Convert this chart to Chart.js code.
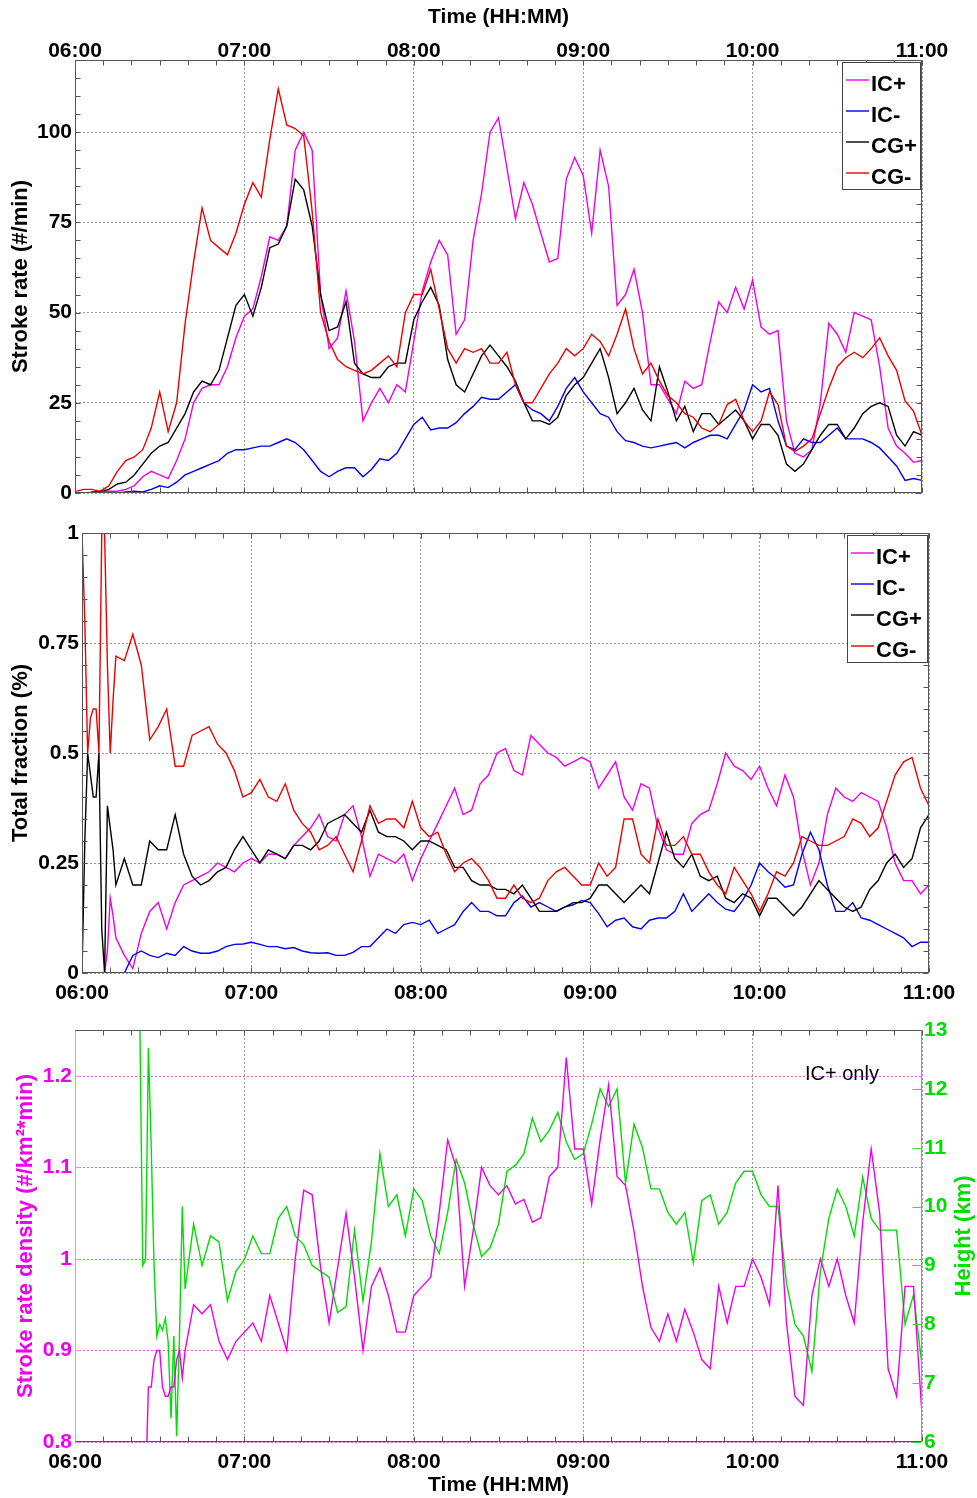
<!DOCTYPE html>
<html lang="en">
<head>
    <meta charset="UTF-8">
    <title>Stroke rates</title>
    <script src="https://cdn.jsdelivr.net/npm/chart.js"></script>
    <style>
        body { margin: 0; background: #fff; }
        #wrap { position: relative; width: 977px; height: 1498px; }
        canvas { position: absolute; left: 0; }
    </style>
</head>
<body>
<div id="wrap">
    <canvas id="rateChart" width="977" height="510" style="top:0"></canvas>
    <canvas id="fracChart" width="977" height="500" style="top:510px"></canvas>
    <canvas id="densChart" width="977" height="488" style="top:1010px"></canvas>
</div>
<script>
// minutes after 06:00 (panels 1 and 2)
const times12 = [0,1,2,3,4,5,6,7,8,9,10,11,12,15,18,21,24,27,30,33,36,39,42,45,48,51,54,57,60,63,66,69,72,75,78,81,84,87,90,93,96,99,102,105,108,111,114,117,120,123,126,129,132,135,138,141,144,147,150,153,156,159,162,165,168,171,174,177,180,183,186,189,192,195,198,201,204,207,210,213,216,219,222,225,228,231,234,237,240,243,246,249,252,255,258,261,264,267,270,273,276,279,282,285,288,291,294,297,300];

// stroke rate (#/min)
const rateICp = [0,0,0,0,0,0,0,0,0,0.2,0.3,0.4,0.5,
    0.5,1,2,4.5,6,5,4,9,15,25, 29,30,30,35,43,49,51,60,71,70, 74,95,100,95,55,40,43,56,42,20,
    25,29,25,30,28,42,56,64,70,66, 44,48,70,83,100,104,90,76,86,80, 72,64,65,87,93,88,72,95,85,52,
    55,62,50,30,30,26,22,31,29,30, 42,53,50,57,51,59,46,44,45,20, 11,10,12,25,47,44,39,50,49,48,
    35,18,13,11,8.5,9];
const rateICm = [0,0,0,0,0,0,0,0,0,0,0,0,0,
    0,0.3,0.5,0.3,1,2,1.5,3,5,6, 7,8,9,11,12,12,12.5,13,13,14, 15,14,12,9,6,4.5,6,7,7,4.5,
    6.5,9.5,9,11,15,19,21,17.5,18,18, 19.5,22,24,26.5,26,26,28,30,25,23, 22,20,24,29,32,28,25,22,21,17,
    14.5,14,13,12.5,13,13.5,14,12.5,14,15, 16,16,15,19,23,30,28,29,20,13, 12,15,14,14,16,18,15,15,15,14,
    12.5,10,7.5,3.5,4,3.5];
const rateCGp = [0,0,0,0,0,0,0.3,0.3,0.4,0.5,0.6,0.8,1,
    2.5,3,5,8,11,13,14,18,22,28, 31,30,34,43,52,55,49,57,68,69, 74,87,84,74,55,45,46,53,36,33,
    32,32,35,36,36,48,53,57,52,37, 30,28,33,38,41,38,35,31,25,20, 20,19,21,27,30,32,36,40,32,22,
    25,29,23,20,35,28,20,24,17,22, 22,19,21,23,20,15,19,19,16,8, 6,8,12,16,19,19,15,18,22,24,
    25,24,16,13,17,16];
const rateCGm = [0.5,0.6,0.8,1,1,1,1,0.8,0.6,0.5,1,1.5,2,
    6,9,10,12,18,28,17,25,47,64, 79,70,68,66,72,80,86,82,98,112, 102,101,99,78,50,42,37,35,34,33,
    34,36,38,35,50,55,55,62,51,40, 36,40,39,40,36,36,39,30,25,25, 29,33,36,40,38,40,44,42,38,44,
    51,40,33,36,31,27,25,22,21,18, 17,19,24.5,26,20,17,20,28,24.5,13, 11.5,13,15,22,29,35,37.5,39,37.5,40,
    43,38,34,25.5,22.7,16];

// total fraction
const fracICp = [0,0,0,0,0,0,0,0,0,0.05,0.17,0.13,0.08,
    0.04,0.01,0.09,0.14,0.16,0.1,0.16,0.2,0.21,0.22, 0.23,0.25,0.24,0.23,0.25,0.26,0.25,0.27,0.27,0.26,
    0.29,0.31,0.33,0.36,0.31,0.3,0.36,0.38,0.31,0.22, 0.27,0.26,0.25,0.27,0.21,0.26,0.3,0.34,0.38,0.42,
    0.36,0.37,0.43,0.45,0.5,0.51,0.46,0.45,0.54,0.52, 0.5,0.49,0.47,0.48,0.49,0.48,0.42,0.45,0.48,0.4,
    0.37,0.43,0.42,0.33,0.28,0.27,0.27,0.34,0.36,0.37, 0.43,0.5,0.47,0.46,0.44,0.47,0.42,0.38,0.45,0.4,
    0.28,0.2,0.25,0.36,0.42,0.4,0.39,0.41,0.4,0.39, 0.33,0.25,0.21,0.21,0.18,0.2];
const fracICm = [0,0,0,0,0,0,0,0,0,0,0,0,0,
    0,0.04,0.05,0.04,0.035,0.045,0.04,0.06,0.05,0.045, 0.045,0.05,0.06,0.065,0.066,0.07,0.065,0.06,0.06,0.055,
    0.058,0.05,0.046,0.045,0.046,0.04,0.04,0.047,0.06,0.06, 0.08,0.1,0.09,0.11,0.115,0.11,0.12,0.09,0.1,0.11,
    0.14,0.16,0.14,0.14,0.13,0.13,0.16,0.175,0.15,0.16, 0.15,0.14,0.15,0.155,0.165,0.16,0.135,0.105,0.12,0.125,
    0.105,0.1,0.12,0.125,0.125,0.14,0.18,0.14,0.16,0.18, 0.16,0.145,0.14,0.165,0.2,0.25,0.23,0.215,0.195,0.2,
    0.27,0.32,0.28,0.2,0.14,0.14,0.16,0.125,0.12,0.11, 0.1,0.09,0.08,0.06,0.07,0.07];
const fracCGp = [0,0.3,0.5,0.45,0.4,0.4,0.5,0.1,0,0.38,0.33,0.28,0.2,
    0.26,0.2,0.2,0.3,0.28,0.28,0.36,0.27,0.22,0.2, 0.21,0.23,0.24,0.28,0.31,0.28,0.25,0.28,0.27,0.26,
    0.29,0.29,0.28,0.3,0.34,0.35,0.36,0.34,0.32,0.37, 0.32,0.31,0.31,0.3,0.28,0.3,0.3,0.29,0.28,0.24,
    0.24,0.21,0.2,0.2,0.19,0.19,0.18,0.2,0.17,0.14, 0.14,0.14,0.15,0.16,0.16,0.17,0.2,0.2,0.18,0.16,
    0.18,0.2,0.18,0.25,0.32,0.26,0.24,0.27,0.22,0.21, 0.22,0.17,0.16,0.18,0.17,0.13,0.17,0.17,0.15,0.13,
    0.15,0.18,0.21,0.19,0.17,0.15,0.14,0.15,0.19,0.21, 0.25,0.27,0.24,0.26,0.33,0.36];
const fracCGm = [1,0.8,0.5,0.58,0.6,0.6,0.5,1,1,0.7,0.5,0.62,0.72,
    0.71,0.77,0.7,0.53,0.56,0.6,0.47,0.47,0.54,0.55, 0.56,0.52,0.5,0.46,0.4,0.41,0.44,0.4,0.39,0.43,
    0.37,0.34,0.32,0.28,0.29,0.31,0.27,0.23,0.3,0.38, 0.34,0.35,0.35,0.33,0.39,0.33,0.31,0.32,0.27,0.23,
    0.25,0.26,0.24,0.21,0.17,0.17,0.2,0.17,0.16,0.17, 0.21,0.23,0.24,0.22,0.2,0.2,0.25,0.22,0.24,0.35,
    0.35,0.27,0.25,0.35,0.29,0.29,0.31,0.27,0.27,0.23, 0.2,0.18,0.24,0.21,0.18,0.14,0.18,0.23,0.22,0.25,
    0.31,0.3,0.29,0.29,0.3,0.31,0.35,0.34,0.31,0.33, 0.39,0.45,0.48,0.49,0.42,0.38];

// minutes after 06:00 (panel 3, IC+ only)
const times3 = [23,24,25,26,27,28,29,30,31,32,33,34,35,36,37,38,39,42,45,48,51,54,57,60,63,66,69,72,75,78,81,84,87,90,93,96,99,102,105,108,111,114,117,120,123,126,129,132,135,138,141,144,147,150,153,156,159,162,165,168,171,174,177,180,183,186,189,192,195,198,201,204,207,210,213,216,219,222,225,228,231,234,237,240,243,246,249,252,255,258,261,264,267,270,273,276,279,282,285,288,291,294,297,300];
const densICp = [null,null,0.75,0.86,0.86,0.89,0.9,0.9,0.86,0.85,0.85,0.86,0.86,0.89,0.9,0.87,0.9,
    0.95,0.94,0.95,0.91,0.89,0.91,0.92,0.93,0.91,0.96, 0.93,0.9,1.0,1.075,1.07,0.99,0.93,0.99,1.05,0.98,
    0.9,0.97,0.99,0.96,0.92,0.92,0.96,0.97,0.98,1.05, 1.13,1.1,0.97,1.03,1.1,1.08,1.07,1.08,1.06,1.065,
    1.04,1.045,1.09,1.1,1.22,1.12,1.12,1.06,1.13,1.19, 1.09,1.08,1.03,0.97,0.925,0.91,0.94,0.91,0.945,0.92,
    0.89,0.88,0.97,0.93,0.97,0.97,1.0,0.98,0.95,1.08, 0.93,0.85,0.84,0.96,1.0,0.97,1.0,0.96,0.93,1.04,
    1.12,1.05,0.88,0.85,0.97,0.97,0.83];
const heightICp = [13,9,9.1,12.7,11,9,7.8,8,7.9,8.1,7.7,6.4,7.8,6.1,7.8,10,8.6,
    9.7,9.0,9.5,9.4,8.4,8.9,9.1,9.5,9.2,9.2, 9.8,10.0,9.5,9.35,9.0,8.9,8.8,8.2,8.3,9.6,
    8.4,9.4,10.9,10.0,10.2,9.5,10.3,10.1,9.5,9.2, 9.9,10.8,10.4,9.7,9.15,9.3,9.7,10.6,10.7,10.9,
    11.5,11.1,11.3,11.6,11.1,10.8,10.9,11.4,12.0,11.7, 12.0,10.4,11.4,11.0,10.3,10.3,9.9,9.7,9.9,9.05,
    10.1,10.2,9.7,9.9,10.4,10.6,10.6,10.2,10.0,10.0, 8.7,8.0,7.8,7.2,8.9,9.8,10.3,10.0,9.5,10.5,
    9.8,9.6,9.6,9.6,8.0,8.5,7.3];

const timeTicks = [0, 60, 120, 180, 240, 300];

Chart.defaults.font.family = "'Liberation Sans', Arial, sans-serif";
Chart.defaults.color = '#000';

const MAG = '#ee00ee', BLU = '#0000ee', BLK = '#000000', RED = '#ee0000', GRN = '#00dd00';
const tickFont = { size: 21, weight: 'bold' };

function hhmm(v) {
    const h = 6 + Math.floor(v / 60), m = v % 60;
    return String(h).padStart(2, '0') + ':' + String(m).padStart(2, '0');
}
function pts(times, vals) {
    return times.map((t, i) => ({ x: t, y: vals[i] }));
}
function lineSet(label, times, vals, color, extra) {
    return Object.assign({ label, data: pts(times, vals), borderColor: color, backgroundColor: color,
        borderWidth: 1.4, pointRadius: 0, tension: 0, fill: false, spanGaps: false }, extra || {});
}

// frame, inward ticks, legend box and notes
const framePlugin = {
    id: 'frame',
    beforeDatasetsDraw(chart, args, o) {
        // horizontal dotted grid drawn here when the axis grid is off (panel 3)
        if (!o.hGrid) return;
        const { ctx, chartArea: a, scales } = chart;
        ctx.save();
        ctx.strokeStyle = o.hGrid;
        ctx.lineWidth = 1;
        ctx.setLineDash([2, 2]);
        scales.y.ticks.forEach(t => {
            const py = Math.round(scales.y.getPixelForValue(t.value)) + 0.5;
            ctx.beginPath(); ctx.moveTo(a.left, py); ctx.lineTo(a.right, py); ctx.stroke();
        });
        ctx.restore();
    },
    afterDatasetsDraw(chart, args, o) {
        const { ctx, chartArea: a, scales } = chart;
        const seg = (x1, y1, x2, y2, c) => {
            ctx.strokeStyle = c; ctx.beginPath(); ctx.moveTo(x1, y1); ctx.lineTo(x2, y2); ctx.stroke();
        };
        ctx.save();
        ctx.lineWidth = 1;
        const L = a.left + 0.5, R = a.right - 0.5, T = a.top + 0.5, B = a.bottom - 0.5;
        const x = scales.x, y = scales.y;
        for (let k = 0; x.min + k * o.xStep <= x.max + 1e-9; k++) {
            const px = Math.round(x.getPixelForValue(x.min + k * o.xStep)) + 0.5;
            seg(px, T, px, T + o.len, o.color);
            seg(px, B, px, B - o.len, o.color);
        }
        for (let k = 0; y.min + k * o.yStep <= y.max + 1e-9; k++) {
            const py = Math.round(y.getPixelForValue(y.min + k * o.yStep)) + 0.5;
            seg(L, py, L + o.len, py, o.leftColor || o.color);
            if (!scales.y2) seg(R, py, R - o.len, py, o.color);
        }
        if (scales.y2) {
            const y2 = scales.y2;
            for (let k = 0; y2.min + k * o.y2Step <= y2.max + 1e-9; k++) {
                const py = Math.round(y2.getPixelForValue(y2.min + k * o.y2Step)) + 0.5;
                seg(R, py, R - o.len2, py, o.rightColor);
            }
        }
        seg(L, T, R, T, o.color);
        seg(L, B, R, B, o.color);
        seg(L, T, L, B, o.leftColor || o.color);
        seg(R, T, R, B, o.rightColor || o.color);

        if (o.legend) {
            const g = o.legend;
            ctx.fillStyle = '#fff';
            ctx.fillRect(g.x, g.y, g.w, g.h);
            ctx.strokeStyle = '#444';
            ctx.strokeRect(g.x + 0.5, g.y + 0.5, g.w, g.h);
            ctx.font = "bold 22px 'Liberation Sans', Arial, sans-serif";
            ctx.textBaseline = 'middle';
            ctx.textAlign = 'left';
            chart.data.datasets.forEach((d, i) => {
                const cy = g.y + 23 + 31 * i;
                ctx.lineWidth = 1.4;
                seg(g.x + 4, cy - 5, g.x + 27, cy - 5, d.borderColor);
                ctx.fillStyle = '#000';
                ctx.fillText(d.label, g.x + 29, cy);
            });
        }
        if (o.note) {
            ctx.font = "20px 'Liberation Sans', Arial, sans-serif";
            ctx.fillStyle = '#000';
            ctx.textBaseline = 'middle';
            ctx.textAlign = 'left';
            ctx.fillText(o.note.text, o.note.x, o.note.y);
        }
        if (o.rightTitle) {
            ctx.translate(o.rightTitle.x, (a.top + a.bottom) / 2);
            ctx.rotate(-Math.PI / 2);
            ctx.font = "bold 22px 'Liberation Sans', Arial, sans-serif";
            ctx.fillStyle = o.rightTitle.color;
            ctx.textAlign = 'center';
            ctx.textBaseline = 'middle';
            ctx.fillText(o.rightTitle.text, 0, 0);
        }
        ctx.restore();
    }
};

function timeAxis(position, pad, withTitle, titlePad) {
    return {
        type: 'linear', position, min: 0, max: 300,
        afterBuildTicks: s => { s.ticks = timeTicks.map(v => ({ value: v })); },
        ticks: { callback: hhmm, font: tickFont, color: '#000', padding: pad, maxRotation: 0, autoSkip: false },
        grid: { color: '#999', drawTicks: false, lineWidth: 1 },
        border: { display: false, dash: [2, 2] },
        title: { display: withTitle, text: 'Time (HH:MM)', font: { size: 21, weight: 'bold' }, color: '#000', padding: titlePad }
    };
}

// panel 1: stroke rate
const ax1 = timeAxis('top', -4, true, { top: 5, bottom: 0 });
ax1.afterFit = s => { s.height = 60; };
new Chart(document.getElementById('rateChart'), {
    type: 'line',
    data: { datasets: [
        lineSet('IC+', times12, rateICp, MAG, { order: 4 }),
        lineSet('IC-', times12, rateICm, BLU, { order: 3 }),
        lineSet('CG+', times12, rateCGp, BLK, { order: 2 }),
        lineSet('CG-', times12, rateCGm, RED, { order: 1 })
    ] },
    options: {
        responsive: false, animation: false, devicePixelRatio: 1,
        layout: { padding: { left: 0, right: 55, top: 0, bottom: 17 } },
        plugins: { legend: { display: false }, tooltip: { enabled: false },
            frame: { color: '#555', len: 5, xStep: 10, yStep: 5, legend: { x: 842, y: 62, w: 78, h: 127 } } },
        scales: {
            x: ax1,
            y: {
                min: 0, max: 120,
                afterFit: s => { s.width = 75; },
                ticks: { stepSize: 25, includeBounds: false, font: tickFont, color: '#000', padding: 3 },
                grid: { color: '#999', drawTicks: false },
                border: { display: false, dash: [2, 2] },
                title: { display: true, text: 'Stroke rate (#/min)', font: { size: 22, weight: 'bold' }, color: '#000', padding: { top: 8, bottom: 0 } }
            }
        }
    },
    plugins: [framePlugin]
});

// panel 2: total fraction
const ax2 = timeAxis('bottom', 8, false, 0);
ax2.afterFit = s => { s.height = 37; };
new Chart(document.getElementById('fracChart'), {
    type: 'line',
    data: { datasets: [
        lineSet('IC+', times12, fracICp, MAG, { order: 4 }),
        lineSet('IC-', times12, fracICm, BLU, { order: 3 }),
        lineSet('CG+', times12, fracCGp, BLK, { order: 2 }),
        lineSet('CG-', times12, fracCGm, RED, { order: 1 })
    ] },
    options: {
        responsive: false, animation: false, devicePixelRatio: 1,
        layout: { padding: { left: 0, right: 48, top: 23, bottom: 0 } },
        plugins: { legend: { display: false }, tooltip: { enabled: false },
            frame: { color: '#555', len: 5, xStep: 10, yStep: 0.05, legend: { x: 847, y: 25, w: 80, h: 127 } } },
        scales: {
            x: ax2,
            y: {
                min: 0, max: 1,
                afterFit: s => { s.width = 82; },
                ticks: { stepSize: 0.25, includeBounds: false, font: tickFont, color: '#000', padding: 3,
                    callback: v => String(+v.toFixed(2)) },
                grid: { color: '#999', drawTicks: false },
                border: { display: false, dash: [2, 2] },
                title: { display: true, text: 'Total fraction (%)', font: { size: 22, weight: 'bold' }, color: '#000', padding: { top: 8, bottom: 0 } }
            }
        }
    },
    plugins: [framePlugin]
});

// panel 3: IC+ stroke rate density and height
const ax3 = timeAxis('bottom', 8, true, { top: 0, bottom: 0 });
ax3.afterFit = s => { s.height = 56; };
new Chart(document.getElementById('densChart'), {
    type: 'line',
    data: { datasets: [
        lineSet('density', times3, densICp, MAG, { yAxisID: 'y' }),
        lineSet('height', times3, heightICp, GRN, { yAxisID: 'y2' })
    ] },
    options: {
        responsive: false, animation: false, devicePixelRatio: 1,
        layout: { padding: { left: 0, right: 0, top: 20, bottom: 0 } },
        plugins: { legend: { display: false }, tooltip: { enabled: false },
            frame: { color: '#555', len: 5, len2: 9, xStep: 10, yStep: 0.1, y2Step: 1,
                leftColor: '#e890e8', rightColor: '#33dd33', hGrid: '#e060e0',
                note: { text: 'IC+ only', x: 805, y: 64 },
                rightTitle: { text: 'Height (km)', x: 964, color: GRN } } },
        scales: {
            x: ax3,
            y: {
                position: 'left', min: 0.8, max: 1.25,
                afterFit: s => { s.width = 75; },
                ticks: { stepSize: 0.1, includeBounds: false, font: tickFont, color: MAG, padding: 3,
                    callback: v => (Math.abs(v - 1) < 1e-6 ? '1' : v.toFixed(1)) },
                grid: { display: false, drawTicks: false },
                border: { display: false },
                title: { display: true, text: 'Stroke rate density (#/km²*min)', font: { size: 22, weight: 'bold' }, color: MAG, padding: { top: 13, bottom: 0 } }
            },
            y2: {
                position: 'right', min: 6, max: 13,
                afterFit: s => { s.width = 55; },
                ticks: { stepSize: 1, font: tickFont, color: GRN, padding: 2 },
                grid: { display: false, drawOnChartArea: false, drawTicks: false },
                border: { display: false }
            }
        }
    },
    plugins: [framePlugin]
});
</script>
</body>
</html>
